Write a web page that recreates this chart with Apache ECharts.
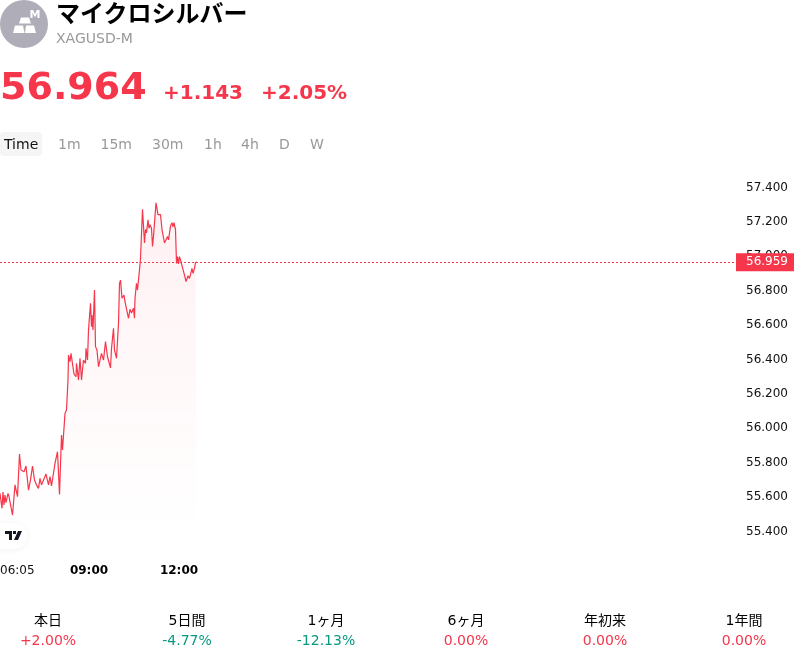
<!DOCTYPE html>
<html lang="ja">
<head>
<meta charset="utf-8">
<title>XAGUSD-M</title>
<script src="https://cdn.jsdelivr.net/npm/echarts@6/dist/echarts.min.js"></script>
<style>
  html, body { margin: 0; padding: 0; background: #fff; width: 800px; height: 660px; overflow: hidden; }
  body { position: relative; font-family: "DejaVu Sans", "Noto Sans CJK JP", sans-serif; color: #000; }
  #chart { position: absolute; left: 0; top: 0; width: 800px; height: 660px; }
  .t { position: absolute; white-space: nowrap; line-height: 1; }
  .c { transform: translateX(-50%); }
  .up { color: #f5364b; }
  .down { color: #089981; }
  .tab { font-size: 14px; color: #999; top: 137px; }
  #tabOn { position: absolute; left: 0; top: 132px; width: 42px; height: 24px; background: #f5f5f5; border-radius: 4px; }
  #badge { position: absolute; left: -16px; top: 523px; width: 43px; height: 26px; background: #fff; border-radius: 13px; box-shadow: 0 1px 6px rgba(0,0,0,.06); }
  svg { position: absolute; }
</style>
</head>
<body>
<div id="chart"></div>

<svg style="left:0;top:0" width="48" height="48" viewBox="0 0 48 48">
  <circle cx="24" cy="24" r="24" fill="#aeadb8"/>
  <g fill="#fff">
    <path d="M21 17.500h8l2 6h-12z"/>
    <path d="M15 25.500h8l1.500 7.500H13z"/>
    <path d="M26 25.500h8l2 7.500H25z"/>
  </g>
  <text x="29.500" y="18" font-size="11" font-weight="700" fill="#fff" font-family="DejaVu Sans">M</text>
</svg>
<div class="t" style="left:56px;top:2px;font-size:24px;font-weight:700">マイクロシルバー</div>
<div class="t" style="left:56px;top:31px;font-size:14px;color:#999">XAGUSD-M</div>

<div class="t up" style="left:0;top:67px;font-size:38px;font-weight:700">56.964</div>
<div class="t up" style="left:163px;top:82px;font-size:20px;font-weight:700">+1.143</div>
<div class="t up" style="left:261px;top:82px;font-size:20px;font-weight:700">+2.05%</div>

<div id="tabOn"></div>
<div id="tabs"></div>

<div id="badge"></div>
<svg style="left:5px;top:531px" width="18" height="10" viewBox="0 0 18 10">
  <path fill="#131722" d="M0 0h7v9H4V3H0zM8 0h3v3H8zM13 0h4l-4 9H9z"/>
</svg>

<div id="periods"></div>

<script>
// Session open, in minutes after midnight, and the price samples of the day.
const SESSION_OPEN = 365;
const PIXELS_PER_MINUTE = 0.5;

const minutesFromOpen = [
  0, 2, 4, 6, 8, 10, 12, 16, 18, 25, 27, 30, 35, 39, 42, 44, 48, 52, 57, 60,
  61, 65, 69, 73, 77, 80, 83, 87, 92, 97, 100, 103, 107, 110, 115, 119, 123, 125, 130, 133,
  136, 137, 140, 142, 145, 148, 152, 153, 157, 160, 163, 167, 171, 172, 175, 177, 181, 183, 184, 186,
  189, 191, 194, 197, 200, 203, 207, 211, 215, 217, 221, 223, 225, 227, 229, 233, 237, 239, 241, 244,
  248, 250, 253, 257, 260, 263, 267, 269, 270, 273, 275, 279,
  281, 285, 289, 291, 293, 296, 298, 300, 303, 305, 307, 312, 316, 319, 321, 324, 326, 329, 333, 335,
  337, 341, 344, 346, 348, 351, 353, 355, 357, 359, 362, 365, 369, 372, 374, 376, 379, 381, 384, 386,
  389, 391, 394
];

const prices = [
  55.616, 55.626, 55.529, 55.624, 55.548, 55.606, 55.562, 55.616, 55.597, 55.490,
  55.490, 55.665, 55.597, 55.845, 55.752, 55.756, 55.742, 55.775, 55.635, 55.626,
  55.694, 55.775, 55.694, 55.665, 55.645, 55.703, 55.665, 55.674, 55.728, 55.665,
  55.713, 55.659, 55.733, 55.791, 55.858, 55.610, 55.955, 55.868, 56.081, 56.101,
  56.275, 56.420, 56.381, 56.430, 56.440, 56.310, 56.294, 56.372, 56.275, 56.401,
  56.275, 56.391, 56.372, 56.459, 56.391, 56.566, 56.721, 56.585, 56.653, 56.566,
  56.798, 56.469, 56.449, 56.352, 56.391, 56.430, 56.391, 56.498, 56.410, 56.403,
  56.345, 56.459, 56.449, 56.576, 56.449, 56.401, 56.605, 56.837, 56.856, 56.750,
  56.769, 56.730, 56.728, 56.634, 56.686, 56.665, 56.692, 56.634, 56.750, 56.837,
  56.798, 56.915,
  56.983, 57.267, 57.072, 57.150, 57.130, 57.207, 57.157, 57.178, 57.157, 57.052,
  57.110, 57.305, 57.237, 57.228, 57.237, 57.150, 57.140, 57.072, 57.082, 57.110,
  57.090, 57.170, 57.190, 57.165, 57.190, 57.150, 56.953, 56.992, 56.950, 56.992,
  56.963, 56.953, 56.885, 56.847, 56.837, 56.881, 56.866, 56.876, 56.924, 56.895,
  56.924, 56.959, 56.959
];

const lastPrice = 56.959;
const priceMin = 55.4;
const priceMax = 57.4;
const priceStep = 0.2;
const timeTicks = [365, 540, 720];
const boldTimeTicks = [540, 720];

const tabLabels = ['Time', '1m', '15m', '30m', '1h', '4h', 'D', 'W'];
const tabLefts = [4, 58, 100.5, 152, 204, 241, 279, 310];

const periodLabels = ['本日', '5日間', '1ヶ月', '6ヶ月', '年初来', '1年間'];
const periodChanges = ['+2.00%', '-4.77%', '-12.13%', '0.00%', '0.00%', '0.00%'];
const periodCentres = [48, 187, 326, 466, 605, 744];

const RED = '#f5364b';

function clock(m) {
  const h = Math.floor(m / 60), mm = m % 60;
  return String(h).padStart(2, '0') + ':' + String(mm).padStart(2, '0');
}

// Timeframe tabs
document.getElementById('tabs').innerHTML = tabLabels.map((s, i) =>
  `<div class="t tab" style="left:${tabLefts[i]}px;${i === 0 ? 'color:#111' : ''}">${s}</div>`
).join('');

// Period performance row
document.getElementById('periods').innerHTML = periodLabels.map((s, i) => {
  const cls = periodChanges[i].startsWith('-') ? 'down' : 'up';
  return `<div class="t c" style="left:${periodCentres[i]}px;top:613px;font-size:14px">${s}</div>` +
         `<div class="t c ${cls}" style="left:${periodCentres[i]}px;top:633px;font-size:14px">${periodChanges[i]}</div>`;
}).join('');

const chart = echarts.init(document.getElementById('chart'), null, { renderer: 'canvas' });
const gridRight = 64;
const gridWidth = 800 - gridRight;

chart.setOption({
  animation: false,
  textStyle: { fontFamily: '"DejaVu Sans", sans-serif' },
  grid: { left: 0, right: gridRight, top: 186.5, bottom: 660 - 530.5, outerBoundsMode: 'none' },
  xAxis: {
    type: 'value',
    min: SESSION_OPEN,
    max: SESSION_OPEN + gridWidth / PIXELS_PER_MINUTE,
    axisLine: { show: false },
    axisTick: { show: false },
    splitLine: { show: false },
    axisLabel: {
      customValues: timeTicks,
      margin: 34,
      alignMinLabel: 'left',
      hideOverlap: false,
      fontSize: 12,
      color: '#111',
      formatter: v => boldTimeTicks.includes(v) ? `{b|${clock(v)}}` : clock(v),
      rich: { b: { fontWeight: 700, fontSize: 12, color: '#000', padding: [0, 0, 0, 3] } }
    }
  },
  yAxis: {
    type: 'value',
    position: 'right',
    min: priceMin,
    max: priceMax,
    interval: priceStep,
    axisLine: { show: false },
    axisTick: { show: false },
    splitLine: { show: false },
    axisLabel: {
      margin: 10,
      formatter: v => `{p|${v.toFixed(3)}}`,
      rich: { p: { fontSize: 12, color: '#111', padding: [2, 0, 0, 0] } }
    }
  },
  series: [{
    type: 'line',
    z: 10,
    showSymbol: false,
    symbol: 'none',
    sampling: false,
    data: minutesFromOpen.map((m, i) => [SESSION_OPEN + m, prices[i]]),
    lineStyle: { color: RED, width: 1.2 },
    itemStyle: { color: RED },
    areaStyle: {
      origin: 'start',
      color: {
        type: 'linear', x: 0, y: 0, x2: 0, y2: 1,
        colorStops: [
          { offset: 0, color: 'rgba(245,54,75,0.1)' },
          { offset: 1, color: 'rgba(245,54,75,0)' }
        ]
      }
    },
    markLine: {
      silent: true,
      symbol: 'none',
      z: 20,
      lineStyle: { color: RED, type: [2, 2], width: 1 },
      label: {
        show: true,
        position: 'end',
        distance: 0,
        color: '#fff',
        fontSize: 12,
        backgroundColor: RED,
        padding: [5, 6, 1, 10],
        formatter: () => lastPrice.toFixed(3)
      },
      data: [{ yAxis: lastPrice }]
    }
  }]
});
</script>
</body>
</html>
